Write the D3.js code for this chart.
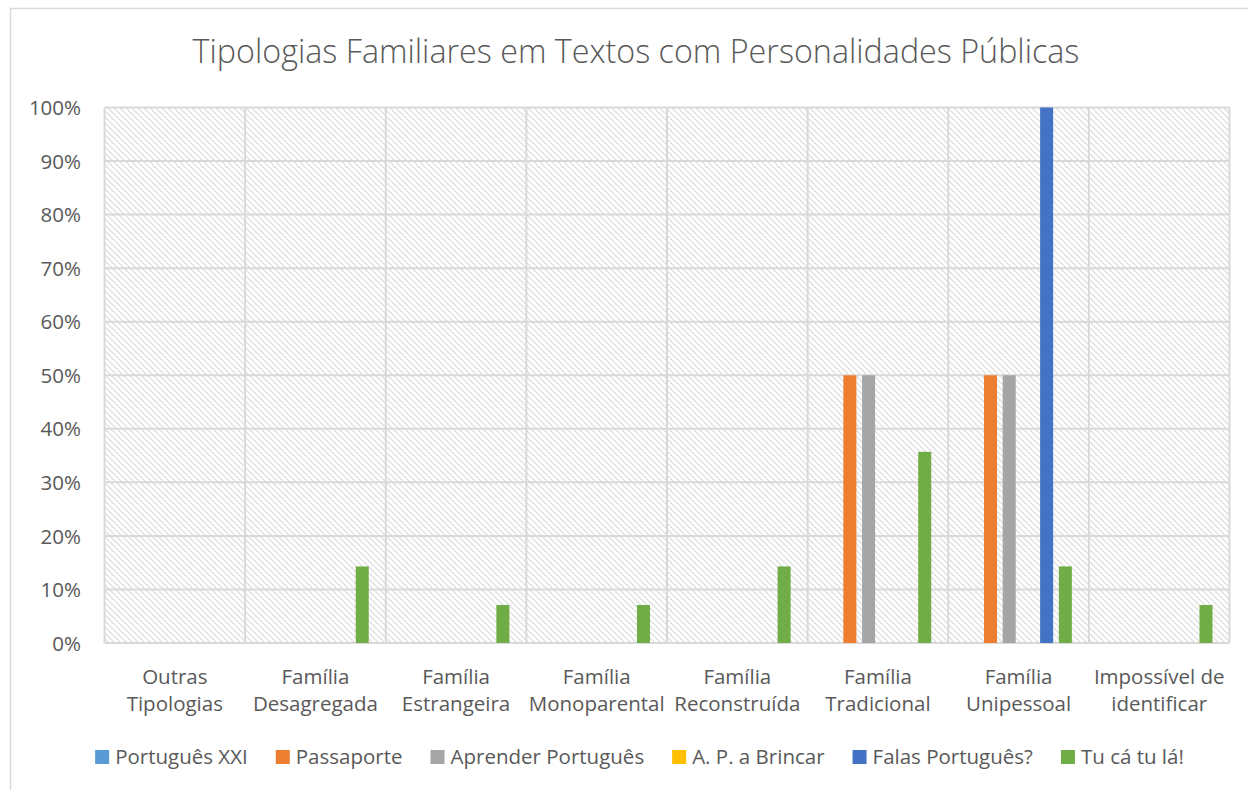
<!DOCTYPE html>
<html><head><meta charset="utf-8">
<script src="https://cdn.jsdelivr.net/npm/d3@7"></script>
<style>body{margin:0;background:#fff}svg{display:block}text{font-family:"Open Sans",sans-serif;fill:#595959}</style>
</head><body><svg id="c" width="1248" height="790"></svg>
<script>
const title = "Tipologias Familiares em Textos com Personalidades Públicas";
const categories = [["Outras","Tipologias"],["Família","Desagregada"],["Família","Estrangeira"],["Família","Monoparental"],["Família","Reconstruída"],["Família","Tradicional"],["Família","Unipessoal"],["Impossível de","identificar"]];
const seriesNames = ["Português XXI","Passaporte","Aprender Português","A. P. a Brincar","Falas Português?","Tu cá tu lá!"];
const seriesColors = ["#5B9BD5","#ED7D31","#A5A5A5","#FFC000","#4472C4","#70AD47"];
const portuguesXXI   = [0,0,0,0,0,0,0,0];
const passaporte     = [0,0,0,0,0,50,50,0];
const aprender       = [0,0,0,0,0,50,50,0];
const apBrincar      = [0,0,0,0,0,0,0,0];
const falasPortugues = [0,0,0,0,0,0,100,0];
const tuCaTuLa       = [0,14.3,7.1,7.1,14.3,35.7,14.3,7.1];
const yTicks = [0,10,20,30,40,50,60,70,80,90,100];

const seriesValues = [portuguesXXI,passaporte,aprender,apBrincar,falasPortugues,tuCaTuLa];
const svg = d3.select("#c");
const L=104.5, R=1229.5, T=107.5, B=643;

// outer border
svg.append("rect").attr("x",10.5).attr("y",8.5).attr("width",1260).attr("height",800)
  .attr("fill","none").attr("stroke","#d9d9d9").attr("stroke-width",1.5);

// pattern
const defs = svg.append("defs");
const pat = defs.append("pattern").attr("id","hatch").attr("patternUnits","userSpaceOnUse")
  .attr("width",6).attr("height",6);
pat.append("rect").attr("width",6).attr("height",6).attr("fill","#fff");
pat.append("path").attr("d","M-1,-1 L7,7 M-1,5 L1,7 M5,-1 L7,1").attr("stroke","#d0d0d0").attr("stroke-width",1.3).attr("stroke-dasharray","1.4,0.7");

const x0 = d3.scaleBand().domain(categories.map((d,i)=>i)).range([L,R]).padding(0);
const bw = x0.bandwidth();
const groupW = bw*0.758;
const x1 = d3.scaleBand().domain(seriesNames.map((d,i)=>i)).range([(bw-groupW)/2,(bw+groupW)/2]).paddingInner(0.305).paddingOuter(0);
const y = d3.scaleLinear().domain([0,100]).range([B,T]);

svg.append("rect").attr("x",L).attr("y",T).attr("width",R-L).attr("height",B-T).attr("fill","url(#hatch)");

// gridlines
svg.append("g").selectAll("line").data(yTicks).join("line")
  .attr("x1",L).attr("x2",R).attr("y1",d=>y(d)).attr("y2",d=>y(d))
  .attr("stroke","#d9d9d9").attr("stroke-width",2);
const bounds = categories.map((d,i)=>x0(i)).concat([R]);
svg.append("g").selectAll("line").data(bounds).join("line")
  .attr("x1",d=>d).attr("x2",d=>d).attr("y1",T).attr("y2",B)
  .attr("stroke","#d9d9d9").attr("stroke-width",2);

// bars
const bars=[];
seriesValues.forEach((vals,s)=>vals.forEach((v,c)=>{ if(v>0) bars.push({s,c,v}); }));
svg.append("g").selectAll("rect").data(bars).join("rect")
  .attr("x",d=>x0(d.c)+x1(d.s)).attr("width",x1.bandwidth())
  .attr("y",d=>y(d.v)).attr("height",d=>y(0)-y(d.v))
  .attr("fill",d=>seriesColors[d.s]);

// y axis labels
const yAxis = d3.axisLeft(y).tickValues(yTicks).tickFormat(d=>d+"%").tickSize(0).tickPadding(0);
const yg = svg.append("g").attr("transform",`translate(${81},0)`).call(yAxis);
yg.select(".domain").remove();
yg.selectAll("text").attr("font-size",20.5).attr("font-family",null).attr("fill","#595959").attr("dy","0.35em");

// x labels
const xg = svg.append("g");
categories.forEach((lines,i)=>{
  const t = xg.append("text").attr("x",x0(i)+bw/2).attr("y",684).attr("text-anchor","middle").attr("font-size",20.5);
  lines.forEach((ln,j)=>t.append("tspan").attr("x",x0(i)+bw/2).attr("dy",j?27:0).text(ln));
});

// title
const tt = svg.append("text").attr("x",636).attr("y",63).attr("text-anchor","middle").attr("font-size",30).attr("font-weight",300).text(title);
const tw = tt.node().getComputedTextLength();
tt.attr("font-size",30*887/tw);

// legend
const lg = svg.append("g");
let lx = 0;
const gap = 28;
seriesNames.forEach((n,i)=>{
  const g = lg.append("g");
  g.append("rect").attr("x",0).attr("y",-7).attr("width",14).attr("height",14).attr("fill",seriesColors[i]);
  const t = g.append("text").attr("x",20).attr("y",0).attr("dy","0.35em").attr("font-size",20.5).text(n);
  const w = 20 + t.node().getComputedTextLength();
  g.attr("transform",`translate(${lx},757)`);
  lx += w + gap;
});
lx -= gap;
lg.attr("transform",`translate(${(97+1182)/2 - lx/2},0)`);
</script></body></html>
